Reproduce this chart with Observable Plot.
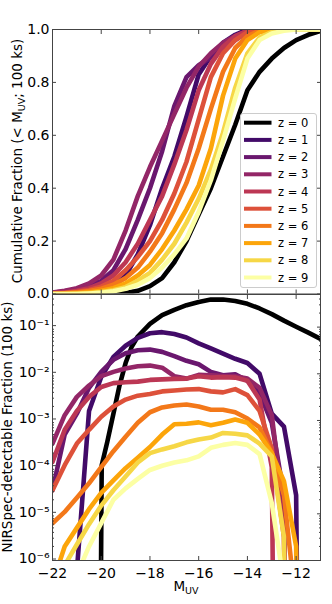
<!DOCTYPE html>
<html><head><meta charset="utf-8">
<script src="https://cdn.jsdelivr.net/npm/d3@7"></script>
<script src="https://cdn.jsdelivr.net/npm/@observablehq/plot@0.6"></script>
<style>
body{margin:0;background:#fff;}
#chart{position:relative;width:332px;height:604px;font-family:"DejaVu Sans",sans-serif;}
#top,#bot{position:absolute;left:0;}
#top{top:0}#bot{top:294px}
svg{overflow:visible}
</style></head><body><div id="chart"><div id="top"></div><div id="bot"></div></div>
<script>
// ---- data ----
const M = [-22,-21.5,-21,-20.5,-20,-19.5,-19,-18.5,-18,-17.5,-17,-16.5,-16,-15.5,-15,-14.5,-14,-13.5,-13,-12.5,-12,-11.5,-11];
const M0 = [-20.02,-19.98,-19.75,-19.5,-19.25,-19,-18.75,-18.5,-18,-17.5,-17,-16.5,-16,-15.5,-15,-14.5,-14,-13.5,-13,-12.5,-12,-11.5,-11];
const zLabels = ["z = 0","z = 1","z = 2","z = 3","z = 4","z = 5","z = 6","z = 7","z = 8","z = 9"];
const colors = ["#000000","#420a68","#6a176e","#932667","#bc3754","#dd513a","#f37819","#fca50a","#f6d746","#fcffa4"];

// cumulative fraction (< M_UV), on grid M
const cumZ0 = [0,0,0,0,0,0.001,0.004,0.012,0.03,0.06,0.12,0.20,0.30,0.40,0.52,0.64,0.77,0.84,0.89,0.93,0.96,0.98,0.995];
const cumZ1 = [0,0,0,0.003,0.008,0.025,0.07,0.15,0.26,0.40,0.52,0.67,0.83,0.90,0.95,0.98,1,1,1,1,1,1,1];
const cumZ2 = [0.005,0.01,0.018,0.03,0.05,0.09,0.17,0.28,0.40,0.54,0.71,0.82,0.865,0.895,0.93,0.96,0.99,1,1,1,1,1,1];
const cumZ3 = [0.006,0.012,0.022,0.04,0.07,0.13,0.24,0.37,0.48,0.58,0.68,0.78,0.86,0.91,0.95,0.975,0.995,1,1,1,1,1,1];
const cumZ4 = [0.003,0.006,0.012,0.022,0.04,0.07,0.12,0.19,0.28,0.37,0.49,0.62,0.77,0.87,0.935,0.975,0.995,1,1,1,1,1,1];
const cumZ5 = [0.002,0.004,0.008,0.015,0.028,0.05,0.09,0.14,0.20,0.28,0.38,0.50,0.66,0.82,0.91,0.96,0.99,1,1,1,1,1,1];
const cumZ6 = [0.001,0.003,0.006,0.011,0.02,0.035,0.06,0.10,0.16,0.23,0.32,0.42,0.55,0.70,0.84,0.93,0.975,0.995,1,1,1,1,1];
const cumZ7 = [0,0.001,0.003,0.006,0.012,0.022,0.04,0.07,0.11,0.17,0.24,0.32,0.41,0.55,0.75,0.89,0.96,0.99,1,1,1,1,1];
const cumZ8 = [0,0,0.001,0.003,0.007,0.014,0.026,0.05,0.08,0.13,0.19,0.27,0.36,0.47,0.61,0.78,0.91,0.97,0.99,1,1,1,1];
const cumZ9 = [0,0,0,0.002,0.005,0.01,0.02,0.035,0.06,0.10,0.15,0.21,0.31,0.43,0.58,0.74,0.89,0.96,0.985,0.995,1,1,1];

// NIRSpec-detectable fraction; z=0 on grid M0, others on grid M
const detZ0 = [1e-7,1.1e-4,3.5e-4,1.4e-3,5.6e-3,1.7e-2,3.8e-2,6.3e-2,0.117,0.18,0.234,0.295,0.347,0.389,0.389,0.363,0.316,0.251,0.19,0.138,0.102,0.076,0.056];
const detZ1 = [null,null,6e-7,1.6e-3,8.5e-3,2.3e-2,4.0e-2,5.9e-2,7.4e-2,7.8e-2,7.1e-2,6.0e-2,4.5e-2,3.5e-2,2.7e-2,2.1e-2,1.7e-2,1.0e-2,1.4e-3,7.4e-4,2.5e-5,1e-30,null];
const detZ2 = [3.2e-5,5.0e-4,1.4e-3,5.0e-3,1.1e-2,2.0e-2,2.75e-2,3.2e-2,3.3e-2,2.95e-2,2.4e-2,1.9e-2,1.6e-2,1.1e-2,9.3e-3,9.8e-3,7.1e-3,3.8e-3,8.9e-4,2.5e-5,1e-30,null,null];
const detZ3 = [3.2e-4,1.3e-3,3.2e-3,5.6e-3,8.9e-3,1.1e-2,1.3e-2,1.45e-2,1.5e-2,1.35e-2,8.9e-3,7.9e-3,9.5e-3,9.3e-3,8.9e-3,8.9e-3,7.9e-3,5.0e-3,1.3e-3,1e-5,1e-30,null,null];
const detZ4 = [1.3e-4,6.3e-4,1.6e-3,3.2e-3,5.2e-3,6.3e-3,6.6e-3,6.8e-3,7.4e-3,7.6e-3,7.8e-3,7.9e-3,8.9e-3,8.3e-3,8.5e-3,8.3e-3,7.1e-3,2.8e-3,1e-4,1e-30,null,null,null];
const detZ5 = [3.2e-5,1.1e-4,3.2e-4,6.3e-4,1.2e-3,2.0e-3,2.8e-3,3.4e-3,3.7e-3,4.2e-3,4.4e-3,4.6e-3,4.7e-3,4.2e-3,4.0e-3,4.7e-3,3.5e-3,1.6e-3,2.5e-4,3.2e-6,1e-30,null,null];
const detZ6 = [6.3e-6,1.1e-5,2.2e-5,4.5e-5,1e-4,2.2e-4,4.5e-4,8.9e-4,1.5e-3,1.9e-3,2.1e-3,2.2e-3,2.0e-3,1.7e-3,1.7e-3,1.5e-3,1.1e-3,7.1e-4,2.0e-4,2.5e-5,1e-7,1e-30,null];
const detZ7 = [3.2e-7,2.0e-6,5.0e-6,1.26e-5,2.8e-5,5.2e-5,9.5e-5,1.6e-4,2.7e-4,5.0e-4,8.3e-4,8.5e-4,9.1e-4,7.9e-4,8.9e-4,1.05e-3,8.9e-4,5.0e-4,2.0e-4,5.0e-5,2.0e-6,1e-30,null];
const detZ8 = [null,7.9e-7,2.2e-6,6.0e-6,1.5e-5,3.2e-5,6.3e-5,1.26e-4,2.0e-4,2.4e-4,2.8e-4,3.4e-4,3.9e-4,4.3e-4,5.4e-4,5.2e-4,4.8e-4,3.2e-4,1.7e-4,3.2e-6,1e-30,null,null];
const detZ9 = [null,null,5e-7,2.0e-6,6.3e-6,2.0e-5,3.5e-5,5.6e-5,8.7e-5,1.07e-4,1.26e-4,1.4e-4,1.7e-4,2.6e-4,3.0e-4,3.3e-4,3.0e-4,1.9e-4,1.7e-5,3.2e-7,null,null,null];

const xTicks = [-22,-20,-18,-16,-14,-12];
const yTicksTop = [0,0.2,0.4,0.6,0.8,1.0];
const yTicksTopLabels = ["0.0","0.2","0.4","0.6","0.8","1.0"];
const yTicksBot = [1e-6,1e-5,1e-4,1e-3,1e-2,1e-1];
const yTicksBotLabels = ["10\u207B\u2076","10\u207B\u2075","10\u207B\u2074","10\u207B\u00B3","10\u207B\u00B2","10\u207B\u00B9"];

const cumSeries = [cumZ0,cumZ1,cumZ2,cumZ3,cumZ4,cumZ5,cumZ6,cumZ7,cumZ8,cumZ9];
const detSeries = [detZ0,detZ1,detZ2,detZ3,detZ4,detZ5,detZ6,detZ7,detZ8,detZ9];

// ---- drawing ----
const minus = d => (d < 0 ? "\u2212" + Math.abs(d) : String(d));
const labelOf = (ticks, labels) => d => {
  const i = ticks.findIndex(t => Math.abs(t - d) <= Math.abs(t) * 1e-6 + 1e-12);
  return i < 0 ? "" : labels[i];
};
const LW = 4.6;
function lineMark(xs, ys, color) {
  const data = xs.map((m, i) => ({m, v: ys[i]})).filter(d => d.v != null);
  return Plot.line(data, {x: "m", y: "v", stroke: color, strokeWidth: LW, clip: true, strokeLinejoin: "round"});
}
const tickCol = "#444";
const frameCol = "#444";
const minorTicks = [];
for (let k = -6; k <= -1; k++) for (let m = 2; m <= 9; m++) { const t = m * Math.pow(10, k); if (t <= 0.5) minorTicks.push(t); }

const commonStyle = {fontFamily: "DejaVu Sans", fontSize: "14px", color: "#000", background: "transparent", overflow: "visible"};

const topPlot = Plot.plot({
  width: 332, height: 294,
  marginLeft: 52, marginRight: 12, marginTop: 29, marginBottom: 0.5,
  style: commonStyle,
  x: {domain: [-22, -11]},
  y: {domain: [0, 1]},
  marks: [
    ...cumSeries.map((s, i) => lineMark(M, s, colors[i])),
    Plot.frame({stroke: frameCol, strokeWidth: 1}),
    Plot.axisX({anchor: "bottom", ticks: xTicks, tickSize: -4, tickFormat: () => "", label: null, stroke: tickCol}),
    Plot.axisX({anchor: "top", ticks: xTicks, tickSize: -4, tickFormat: () => "", label: null, stroke: tickCol}),
    Plot.axisY({anchor: "left", ticks: yTicksTop, tickSize: -4, tickPadding: 7, tickFormat: labelOf(yTicksTop, yTicksTopLabels), label: null, stroke: tickCol}),
    Plot.axisY({anchor: "right", ticks: yTicksTop, tickSize: -4, tickFormat: () => "", label: null, stroke: tickCol})
  ]
});

const botPlot = Plot.plot({
  width: 332, height: 310,
  marginLeft: 52, marginRight: 12, marginTop: 0, marginBottom: 44,
  style: commonStyle,
  x: {domain: [-22, -11]},
  y: {type: "log", domain: [1e-6, 0.5]},
  marks: [
    lineMark(M0, detZ0, colors[0]),
    ...detSeries.slice(1).map((s, i) => lineMark(M, s, colors[i + 1])),
    Plot.frame({stroke: frameCol, strokeWidth: 1}),
    Plot.axisX({anchor: "bottom", ticks: xTicks, tickSize: -4, tickPadding: 11.5, tickFormat: minus, label: null, stroke: tickCol}),
    Plot.axisX({anchor: "top", ticks: xTicks, tickSize: -4, tickFormat: () => "", label: null, stroke: tickCol}),
    Plot.axisY({anchor: "left", ticks: minorTicks, tickSize: -2, tickFormat: () => "", label: null, stroke: tickCol}),
    Plot.axisY({anchor: "right", ticks: minorTicks, tickSize: -2, tickFormat: () => "", label: null, stroke: tickCol}),
    Plot.axisY({anchor: "right", ticks: yTicksBot, tickSize: -4, tickFormat: () => "", label: null, stroke: tickCol}),
    Plot.axisY({anchor: "left", ticks: yTicksBot, tickSize: -4, tickPadding: 7, dy: -1.5, tickFormat: labelOf(yTicksBot, yTicksBotLabels), label: null, stroke: tickCol})
  ]
});

document.getElementById("top").appendChild(topPlot);
document.getElementById("bot").appendChild(botPlot);

// axis labels with subscripts
const ts = d3.select(topPlot);
const tl = ts.append("text")
  .attr("transform", "translate(21.5,161) rotate(-90)")
  .attr("text-anchor", "middle").attr("font-size", 13.5).attr("fill", "#000");
tl.append("tspan").text("Cumulative Fraction (< M");
tl.append("tspan").attr("font-size", 9.5).attr("dy", 3).text("UV");
tl.append("tspan").attr("dy", -3).text("; 100 ks)");

const bs = d3.select(botPlot);
bs.append("text")
  .attr("transform", "translate(11.5,133) rotate(-90)")
  .attr("text-anchor", "middle").attr("font-size", 13.5).attr("fill", "#000")
  .text("NIRSpec-detectable Fraction (100 ks)");
const xl = bs.append("text")
  .attr("x", 186).attr("y", 297)
  .attr("text-anchor", "middle").attr("font-size", 13.5).attr("fill", "#000");
xl.append("tspan").text("M");
xl.append("tspan").attr("font-size", 9.5).attr("dy", 3).text("UV");

// legend
const lg = ts.append("g");
lg.append("rect").attr("x", 240.5).attr("y", 113.5).attr("width", 76).attr("height", 174)
  .attr("rx", 2.5).attr("fill", "#fff").attr("fill-opacity", 0.85).attr("stroke", "#ccc").attr("stroke-width", 1);
zLabels.forEach((lab, i) => {
  const y = 122.7 + i * 17.2;
  lg.append("line").attr("x1", 244).attr("x2", 271.5).attr("y1", y).attr("y2", y)
    .attr("stroke", colors[i]).attr("stroke-width", 4);
  lg.append("text").attr("x", 278).attr("y", y).attr("dy", "0.35em").attr("text-anchor", "start")
    .attr("font-size", 11.5).attr("fill", "#000").text(lab);
});
</script>
</body></html>
